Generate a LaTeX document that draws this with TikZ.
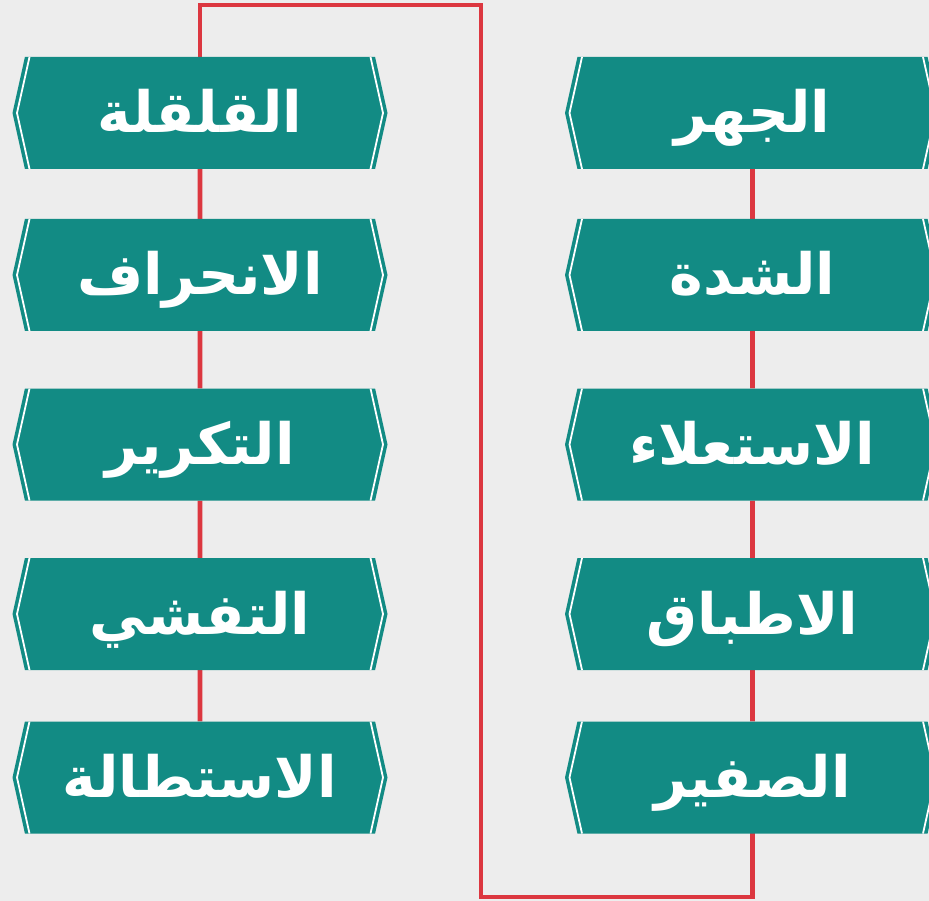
\documentclass[tikz,border=0pt]{standalone}
\usepackage{fontspec}
\newfontfamily\arabicfont[Script=Arabic]{DejaVu Sans}
\TeXXeTstate=1
\usetikzlibrary{positioning}
\usetikzlibrary{shapes.symbols}
\usetikzlibrary{backgrounds}

\definecolor{tealbox}{RGB}{18,139,132}
\definecolor{redline}{RGB}{220,55,64}
\definecolor{bggray}{RGB}{237,237,237}

\tikzset{
  sifa/.style={signal, signal to=west and east, signal pointer angle=155,
    fill=tealbox, text=white, minimum width=375pt, minimum height=112pt,
    inner sep=0pt, text height=46pt, text depth=6pt,
    font=\arabicfont\bfseries\fontsize{57}{62}\selectfont,
    path picture={
      \draw[white, line width=1.8pt]
        ([xshift=17pt]path picture bounding box.north west) -- ([xshift=4.5pt]path picture bounding box.west) -- ([xshift=17pt]path picture bounding box.south west);
      \draw[white, line width=1.8pt]
        ([xshift=-17pt]path picture bounding box.north east) -- ([xshift=-4.5pt]path picture bounding box.east) -- ([xshift=-17pt]path picture bounding box.south east);
    }},
  wasl/.style={draw=redline, line width=4.6pt}
}

\begin{document}
\begin{tikzpicture}[x=1pt, y=-1pt, node distance=166pt]
  \useasboundingbox (0,0) rectangle (929,901);

  \node[sifa] (qalqala) at (200,113) {\beginR القلقلة\endR};
  \node[sifa, below of=qalqala, yshift=4pt] (inhiraf) {\beginR الانحراف\endR};
  \node[sifa, below of=inhiraf, yshift=-3.5pt] (takrir) {\beginR التكرير\endR};
  \node[sifa, below of=takrir, yshift=-3.5pt] (tafashi) {\beginR التفشي\endR};
  \node[sifa, below of=tafashi, yshift=2.5pt] (istitala) {\beginR الاستطالة\endR};

  \node[sifa, right of=qalqala, xshift=386.5pt] (jahr) {\beginR الجهر\endR};
  \node[sifa, below of=jahr, yshift=4pt] (shidda) {\beginR الشدة\endR};
  \node[sifa, below of=shidda, yshift=-3.5pt] (istila) {\beginR الاستعلاء\endR};
  \node[sifa, below of=istila, yshift=-3.5pt] (itbaq) {\beginR الاطباق\endR};
  \node[sifa, below of=itbaq, yshift=2.5pt] (safir) {\beginR الصفير\endR};

  \begin{scope}[on background layer]
    \fill[bggray] (0,0) rectangle (929,901);
    \coordinate (fawq) at (481,5);
    \coordinate (taht) at (481,897);
    \draw[wasl] (qalqala.center) |- (fawq) -- (taht) -| (safir.center);
    \draw[wasl] (qalqala) -- (inhiraf);
    \draw[wasl] (inhiraf) -- (takrir);
    \draw[wasl] (takrir) -- (tafashi);
    \draw[wasl] (tafashi) -- (istitala);
    \draw[wasl] (jahr) -- (shidda);
    \draw[wasl] (shidda) -- (istila);
    \draw[wasl] (istila) -- (itbaq);
    \draw[wasl] (itbaq) -- (safir);
  \end{scope}
\end{tikzpicture}
\end{document}
